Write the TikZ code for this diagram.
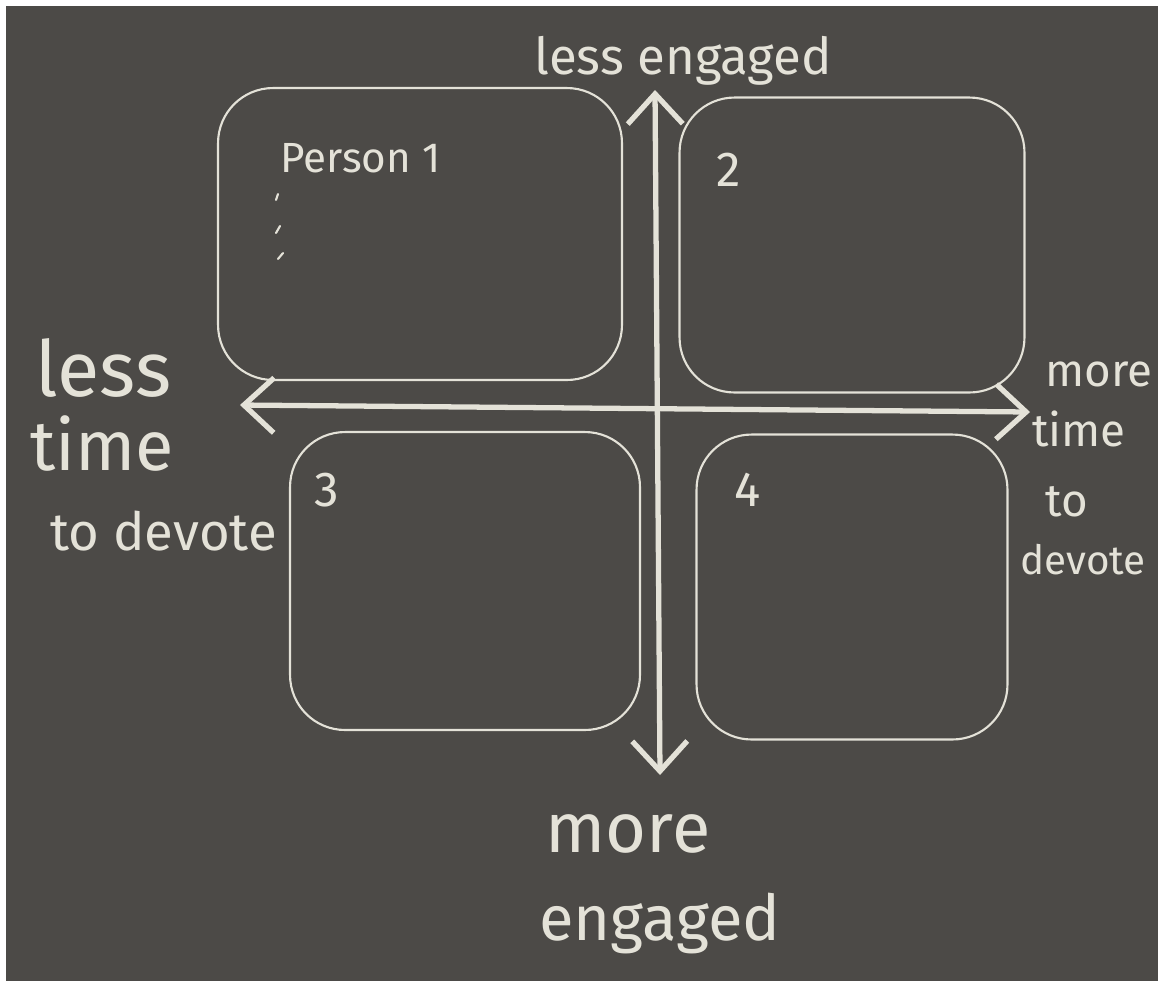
\documentclass[tikz,border=0pt]{standalone}
\usepackage{fontspec}
\setmainfont{Fira Sans}
\usepackage{tikz}
\usetikzlibrary{arrows.meta,positioning}
\definecolor{board}{HTML}{4C4A47}
\definecolor{chalk}{HTML}{E4E2D8}
\tikzstyle{quad} = [rectangle, rounded corners=1.1cm, draw=chalk, line width=1.2pt]
\tikzstyle{word} = [text=chalk, inner sep=0pt]
\tikzstyle{tick} = [draw=chalk, line width=1.2pt, line cap=round]
\tikzstyle{axis} = [draw=chalk, line width=3pt, line cap=round, <->, >={Straight Barb[length=0.6cm,width=1.1cm]}]
\newcommand{\fsz}[1]{\fontsize{#1}{#1}\selectfont}

\begin{document}
\begin{tikzpicture}[x=0.02cm, y=-0.02cm]
    \useasboundingbox (0,0) rectangle (1158,985);
    \fill[white] (0,0) rectangle (1158,985);
    \fill[board] (6,6) rectangle (1158,981);

    % the four quadrants
    \node (q1)[quad, minimum width=8.08cm, minimum height=5.84cm] at (420,234) {};
    \node (q2)[quad, minimum width=6.9cm, minimum height=5.9cm] at (852,245) {};
    \node (q3)[quad, minimum width=7cm, minimum height=5.96cm] at (465,581) {};
    \node (q4)[quad, minimum width=6.22cm, minimum height=6.1cm] at (852,587) {};

    \node (p1)[word, font=\fsz{24}, anchor=base west] at (280,172) {Person 1};
    % chalk dots under the name
    \draw[tick] (278,194) -- (276,200);
    \draw[tick] (280,226) -- (276,233);
    \draw[tick] (283,253) -- (278,259);
    \node (n2)[word, font=\fsz{28}, anchor=base west] at (716,186) {2};
    \node (n3)[word, font=\fsz{28}, anchor=base west] at (314,506) {3};
    \node (n4)[word, font=\fsz{28}, anchor=base west] at (734,506) {4};

    % axes
    \coordinate (up) at (655,90);
    \coordinate (down) at (660,775);
    \coordinate (west) at (240,405);
    \coordinate (east) at (1030,412);
    \draw[axis] (up) -- (down);
    \draw[axis] (west) -- (east);

    % axis labels
    \node (lesseng)[word, font=\fsz{29}, anchor=base] at (683,74) {less engaged};
    \node (moreB)[word, font=\fsz{40}, anchor=base] at (628,852) {more};
    \node (engB)[word, font=\fsz{36}, anchor=base] at (660,940) {engaged};

    \node (lessL)[word, font=\fsz{44}, anchor=base west] at (35,396) {less};
    \node (timeL)[word, font=\fsz{40}, anchor=base west] at (30,470) {time};
    \node (devL)[word, font=\fsz{30}, anchor=base west] at (50,550) {to devote};

    \node (moreR)[word, font=\fsz{26}, anchor=base west] at (1045,386) {more};
    \node (timeR)[word, font=\fsz{26}, anchor=base west] at (1032,446) {time};
    \node (toR)[word, font=\fsz{26}, anchor=base west] at (1045,516) {to};
    \node (devR)[word, font=\fsz{23}, anchor=base west] at (1020,574) {devote};
  \end{tikzpicture}
\end{document}
